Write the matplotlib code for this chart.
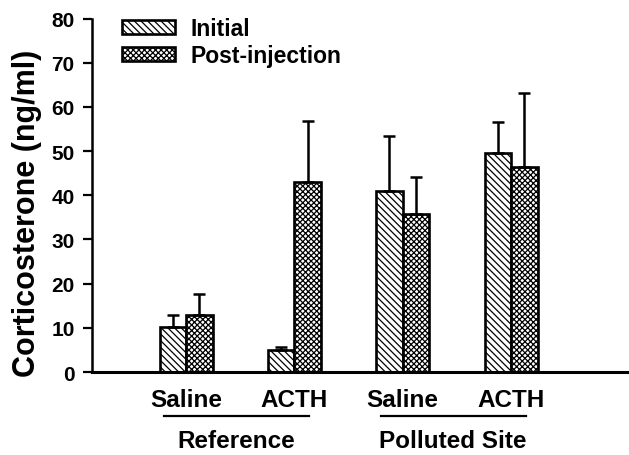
import numpy as np
import matplotlib.pyplot as plt

plt.rcParams['font.family'] = ['Liberation Sans', 'DejaVu Sans']
plt.rcParams['font.weight'] = 'bold'
plt.rcParams['hatch.linewidth'] = 0.9

# datos
tratamientos = ['Saline', 'ACTH', 'Saline', 'ACTH']
sitios = ['Reference', 'Polluted Site']
inicial = [10.3, 5.0, 41.0, 49.6]
inicial_err = [2.5, 0.7, 12.4, 6.9]
post = [12.9, 43.1, 35.8, 46.3]
post_err = [4.8, 13.7, 8.3, 16.9]

x = np.arange(len(tratamientos))
w = 0.245

fig = plt.figure(figsize=(6.29, 4.56), dpi=100)
ax = fig.add_axes([0.1463, 0.182, 0.854, 0.775])

ax.bar(x - w/2, inicial, w, color='white', edgecolor='black', linewidth=1.9,
       hatch='\\\\\\\\\\', label='Initial')
ax.bar(x + w/2, post, w, color='white', edgecolor='black', linewidth=1.9,
       hatch='xxxxxx', label='Post-injection')

# barras de error solo hacia arriba
ax.errorbar(x - w/2, inicial, yerr=[np.zeros(4), inicial_err], fmt='none',
            ecolor='black', elinewidth=1.8, capsize=4.3, capthick=1.8)
ax.errorbar(x + w/2, post, yerr=[np.zeros(4), post_err], fmt='none',
            ecolor='black', elinewidth=1.8, capsize=4.3, capthick=1.8)

ax.set_xlim(-0.868, 4.09)
ax.set_ylim(0, 80)
ax.set_yticks(range(0, 81, 10))
ax.tick_params(axis='y', length=6.5, width=1.6, pad=6, labelsize=15)
ax.set_xticks([])
for s in ['top', 'right']:
    ax.spines[s].set_visible(False)
ax.spines['left'].set_linewidth(1.8)
ax.spines['bottom'].set_linewidth(2.2)

for xi, t in zip(x, tratamientos):
    ax.text(xi, -6.2, t, ha='center', va='center', fontsize=17.5, fontweight='bold', clip_on=False)

for i, s in enumerate(sitios):
    c = x[2*i:2*i+2].mean() - 0.035
    ax.plot([c - 0.67, c + 0.67], [-10, -10], color='black', lw=1.6, clip_on=False)
    ax.text(c, -15.6, s, ha='center', va='center', fontsize=17.5, fontweight='bold', clip_on=False)

fig.text(27.5/629, 1 - 213/456, 'Corticosterone (ng/ml)', rotation=90, ha='center', va='center',
         fontsize=22, fontweight='bold')

ax.legend(loc='upper left', bbox_to_anchor=(122/629, 1 - 18/456), bbox_transform=fig.transFigure,
          frameon=False, fontsize=16.5, handlelength=2.3, handleheight=0.6, handletextpad=0.7,
          labelspacing=0.18, borderpad=0, borderaxespad=0)

fig.savefig('out.png', dpi=100)
